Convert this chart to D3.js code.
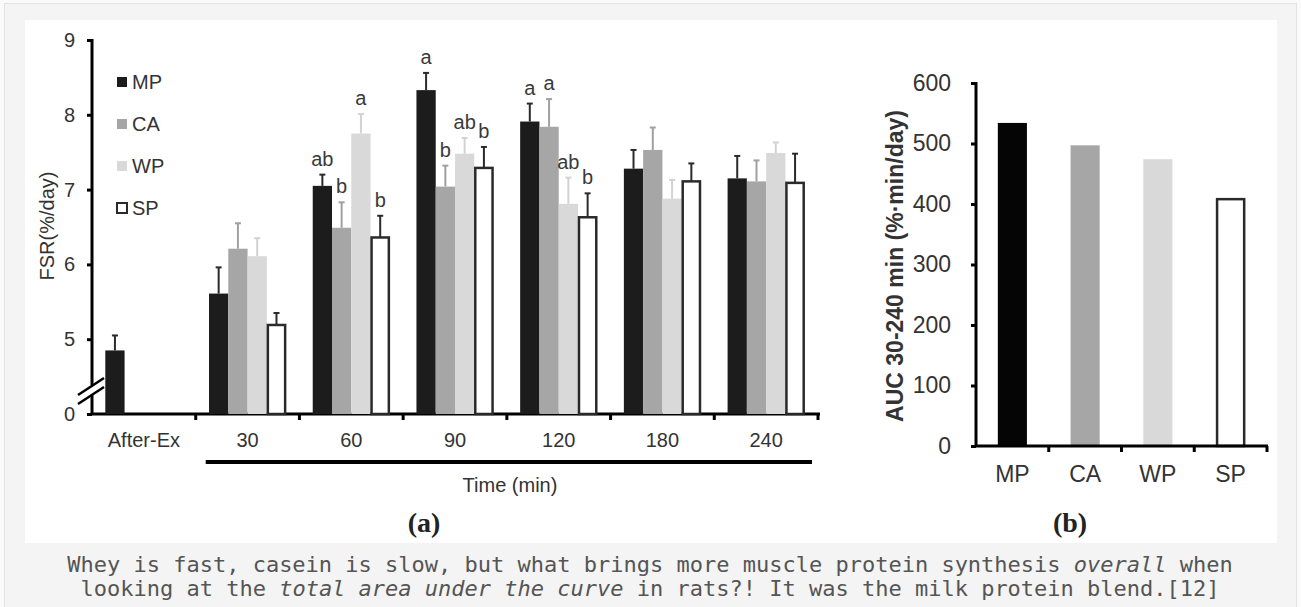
<!DOCTYPE html>
<html>
<head>
<meta charset="utf-8">
<script src="https://cdn.jsdelivr.net/npm/d3@7"></script>
<style>
  body { margin: 0; background: #fafafa; }
  svg { display: block; }
  .tick text { font-family: "Liberation Sans", Arial, sans-serif; fill: #333; }
</style>
</head>
<body>
<svg id="chart"></svg>
<script>
// ---- data ----
const timeCats = ["After-Ex", "30", "60", "90", "120", "180", "240"];
const groups = ["MP", "CA", "WP", "SP"];

const mpMean = [4.85, 5.61, 7.05, 8.33, 7.91, 7.28, 7.15];
const mpSem  = [0.20, 0.35, 0.15, 0.23, 0.24, 0.25, 0.30];
const caMean = [null, 6.21, 6.49, 7.04, 7.84, 7.53, 7.11];
const caSem  = [null, 0.34, 0.34, 0.28, 0.37, 0.30, 0.28];
const wpMean = [null, 6.11, 7.75, 7.48, 6.81, 6.88, 7.49];
const wpSem  = [null, 0.24, 0.26, 0.21, 0.35, 0.25, 0.14];
const spMean = [null, 5.19, 6.36, 7.29, 6.63, 7.11, 7.09];
const spSem  = [null, 0.16, 0.29, 0.28, 0.32, 0.24, 0.39];

const mpLetters = ["", "", "ab", "a", "a", "", ""];
const caLetters = ["", "", "b", "b", "a", "", ""];
const wpLetters = ["", "", "a", "ab", "ab", "", ""];
const spLetters = ["", "", "b", "b", "b", "", ""];

const fsrTicks = [4, 5, 6, 7, 8, 9];   // 4 sits at the axis break and is labelled "0"

const aucValues = [534, 497, 474, 408];
const aucTicks = [0, 100, 200, 300, 400, 500, 600];

// ---- styles ----
const fills = {MP: "#1c1c1c", CA: "#a6a6a6", WP: "#d9d9d9", SP: "#ffffff"};
const errCol = {MP: "#2a2a2a", CA: "#a0a0a0", WP: "#d2d2d2", SP: "#2a2a2a"};
const font = "'Liberation Sans', Arial, sans-serif";

const W = 1301, H = 607;
const svg = d3.select("#chart").attr("width", W).attr("height", H);

// page frame + white figure panel
svg.append("rect").attr("x", 4.5).attr("y", 3.5).attr("width", 1292).attr("height", 610)
  .attr("fill", "#f4f4f4").attr("stroke", "#e2e2e2");
svg.append("rect").attr("x", 25).attr("y", 20).attr("width", 1252).attr("height", 523)
  .attr("fill", "#ffffff");

// ================= panel (a) =================
const table = timeCats.map((c, i) => ({
  cat: c,
  vals: [
    {g: "MP", v: mpMean[i], e: mpSem[i], l: mpLetters[i]},
    {g: "CA", v: caMean[i], e: caSem[i], l: caLetters[i]},
    {g: "WP", v: wpMean[i], e: wpSem[i], l: wpLetters[i]},
    {g: "SP", v: spMean[i], e: spSem[i], l: spLetters[i]}
  ].filter(d => d.v != null)
}));

const x0 = d3.scaleBand().domain(timeCats).range([92, 818]);
const x1 = d3.scaleBand().domain(groups).range([0, x0.bandwidth()]).paddingOuter(0.69);
const y = d3.scaleLinear().domain([4, 9]).range([414, 40]);

const a = svg.append("g");

// x axis
const xAxisA = a.append("g").attr("transform", "translate(0,414)")
  .call(d3.axisBottom(x0).tickSize(0).tickPadding(19));
xAxisA.select(".domain").remove();
xAxisA.selectAll("text").attr("font-size", 20).attr("font-family", font);

a.append("line").attr("x1", 92).attr("x2", 820).attr("y1", 414).attr("y2", 414)
  .attr("stroke", "#000").attr("stroke-width", 3);
a.selectAll(".xtk").data(timeCats).enter().append("line")
  .attr("x1", d => x0(d) + x0.bandwidth()).attr("x2", d => x0(d) + x0.bandwidth())
  .attr("y1", 414).attr("y2", 420)
  .attr("stroke", "#000").attr("stroke-width", 3);

// y axis (broken between 0 and 5)
const yAxisA = a.append("g").attr("transform", "translate(92,0)")
  .call(d3.axisLeft(y).tickValues(fsrTicks).tickSize(5).tickPadding(12)
    .tickFormat(d => d === 4 ? "0" : d));
yAxisA.select(".domain").remove();
yAxisA.selectAll(".tick line").attr("stroke", "#000").attr("stroke-width", 3);
yAxisA.selectAll("text").attr("font-size", 20);

a.append("line").attr("x1", 92).attr("x2", 92).attr("y1", 39).attr("y2", 385)
  .attr("stroke", "#000").attr("stroke-width", 3);
a.append("line").attr("x1", 92).attr("x2", 92).attr("y1", 395).attr("y2", 415)
  .attr("stroke", "#000").attr("stroke-width", 3);
[0, 9].forEach(o => {
  a.append("line").attr("x1", 78).attr("y1", 395 + o).attr("x2", 104).attr("y2", 378 + o)
    .attr("stroke", "#000").attr("stroke-width", 2.5);
});

// bars
const grp = a.selectAll(".grp").data(table).enter().append("g")
  .attr("transform", d => `translate(${x0(d.cat)},0)`);

grp.selectAll("line.err").data(d => d.vals).enter().append("line")
  .attr("x1", d => x1(d.g) + x1.bandwidth() / 2).attr("x2", d => x1(d.g) + x1.bandwidth() / 2)
  .attr("y1", d => y(d.v)).attr("y2", d => y(d.v + d.e))
  .attr("stroke", d => errCol[d.g]).attr("stroke-width", 2);
grp.selectAll("line.cap").data(d => d.vals).enter().append("line")
  .attr("x1", d => x1(d.g) + x1.bandwidth() / 2 - 3).attr("x2", d => x1(d.g) + x1.bandwidth() / 2 + 3)
  .attr("y1", d => y(d.v + d.e)).attr("y2", d => y(d.v + d.e))
  .attr("stroke", d => errCol[d.g]).attr("stroke-width", 2);

grp.selectAll("rect").data(d => d.vals).enter().append("rect")
  .attr("x", d => x1(d.g) + (d.g === "SP" ? 1 : 0))
  .attr("width", d => x1.bandwidth() - (d.g === "SP" ? 2 : 0))
  .attr("y", d => y(d.v))
  .attr("height", d => y(4) - y(d.v))
  .attr("fill", d => fills[d.g])
  .attr("stroke", d => d.g === "SP" ? "#2a2a2a" : "none")
  .attr("stroke-width", 2.5);

grp.selectAll("text").data(d => d.vals.filter(v => v.l)).enter().append("text")
  .attr("x", d => x1(d.g) + x1.bandwidth() / 2)
  .attr("y", d => y(d.v + d.e) - 9)
  .attr("text-anchor", "middle")
  .attr("font-family", font).attr("font-size", 20).attr("fill", "#3a3a3a")
  .text(d => d.l);

// legend
const leg = a.append("g").selectAll("g").data(groups).enter().append("g")
  .attr("transform", (d, i) => `translate(117,${82 + i * 42})`);
leg.append("rect").attr("x", 0).attr("y", -5).attr("width", 10).attr("height", 10)
  .attr("fill", d => fills[d]).attr("stroke", d => d === "SP" ? "#2a2a2a" : "none")
  .attr("stroke-width", 2);
leg.append("text").attr("x", 15).attr("y", 7).attr("font-family", font).attr("font-size", 20)
  .attr("fill", "#333").text(d => d);

// axis titles
a.append("text").attr("transform", "translate(54,226) rotate(-90)").attr("text-anchor", "middle")
  .attr("font-family", font).attr("font-size", 20).attr("fill", "#333").text("FSR(%/day)");
a.append("line").attr("x1", x0("30") + 10).attr("x2", 812).attr("y1", 462).attr("y2", 462)
  .attr("stroke", "#000").attr("stroke-width", 4);
a.append("text").attr("x", 510).attr("y", 492).attr("text-anchor", "middle")
  .attr("font-family", font).attr("font-size", 20).attr("fill", "#333").text("Time (min)");
a.append("text").attr("x", 424).attr("y", 532).attr("text-anchor", "middle")
  .attr("font-family", "'Liberation Serif', 'Times New Roman', serif").attr("font-weight", "bold")
  .attr("font-size", 28).attr("fill", "#222").text("(a)");

// ================= panel (b) =================
const xb = d3.scaleBand().domain(groups).range([976, 1267]).paddingInner(0.6).paddingOuter(0.3);
const yb = d3.scaleLinear().domain([0, 600]).range([446, 83]);
const b = svg.append("g");

const yAxisB = b.append("g").attr("transform", "translate(976,0)")
  .call(d3.axisLeft(yb).tickValues(aucTicks).tickSize(5).tickPadding(20));
yAxisB.select(".domain").remove();
yAxisB.selectAll(".tick line").attr("stroke", "#000").attr("stroke-width", 3);
yAxisB.selectAll("text").attr("font-size", 23);
b.append("line").attr("x1", 976).attr("x2", 976).attr("y1", 82).attr("y2", 447)
  .attr("stroke", "#000").attr("stroke-width", 3);

b.selectAll("rect").data(groups.map((g, i) => ({g, v: aucValues[i]}))).enter().append("rect")
  .attr("x", d => xb(d.g) + (d.g === "SP" ? 1 : 0))
  .attr("width", d => xb.bandwidth() - (d.g === "SP" ? 2 : 0))
  .attr("y", d => yb(d.v)).attr("height", d => yb(0) - yb(d.v))
  .attr("fill", d => d.g === "MP" ? "#050505" : fills[d.g])
  .attr("stroke", d => d.g === "SP" ? "#2a2a2a" : "none").attr("stroke-width", 2.5);

const xAxisB = b.append("g").attr("transform", "translate(0,446)")
  .call(d3.axisBottom(xb).tickSize(0).tickPadding(20));
xAxisB.select(".domain").remove();
xAxisB.selectAll("text").attr("font-size", 23);
b.append("line").attr("x1", 975).attr("x2", 1268).attr("y1", 446).attr("y2", 446)
  .attr("stroke", "#000").attr("stroke-width", 3);
b.selectAll(".xtk").data(groups).enter().append("line")
  .attr("x1", d => xb(d) + xb.bandwidth() + xb.step() * 0.3)
  .attr("x2", d => xb(d) + xb.bandwidth() + xb.step() * 0.3)
  .attr("y1", 446).attr("y2", 452).attr("stroke", "#000").attr("stroke-width", 3);

b.append("text").attr("transform", "translate(903,266) rotate(-90)").attr("text-anchor", "middle")
  .attr("font-family", font).attr("font-weight", "bold").attr("font-size", 23).attr("fill", "#333")
  .text("AUC 30-240 min (%\u00b7min/day)");
b.append("text").attr("x", 1070).attr("y", 532).attr("text-anchor", "middle")
  .attr("font-family", "'Liberation Serif', 'Times New Roman', serif").attr("font-weight", "bold")
  .attr("font-size", 28).attr("fill", "#222").text("(b)");

// ================= caption =================
const cap = svg.append("g").attr("font-family", "'DejaVu Sans Mono', monospace")
  .attr("font-size", 22).attr("fill", "#555").attr("text-anchor", "middle");
const l1 = cap.append("text").attr("x", 650).attr("y", 572);
l1.append("tspan").text("Whey is fast, casein is slow, but what brings more muscle protein synthesis ");
l1.append("tspan").attr("font-style", "italic").text("overall");
l1.append("tspan").text(" when");
const l2 = cap.append("text").attr("x", 650).attr("y", 596);
l2.append("tspan").text("looking at the ");
l2.append("tspan").attr("font-style", "italic").text("total area under the curve");
l2.append("tspan").text(" in rats?! It was the milk protein blend.[12]");
</script>
</body>
</html>
